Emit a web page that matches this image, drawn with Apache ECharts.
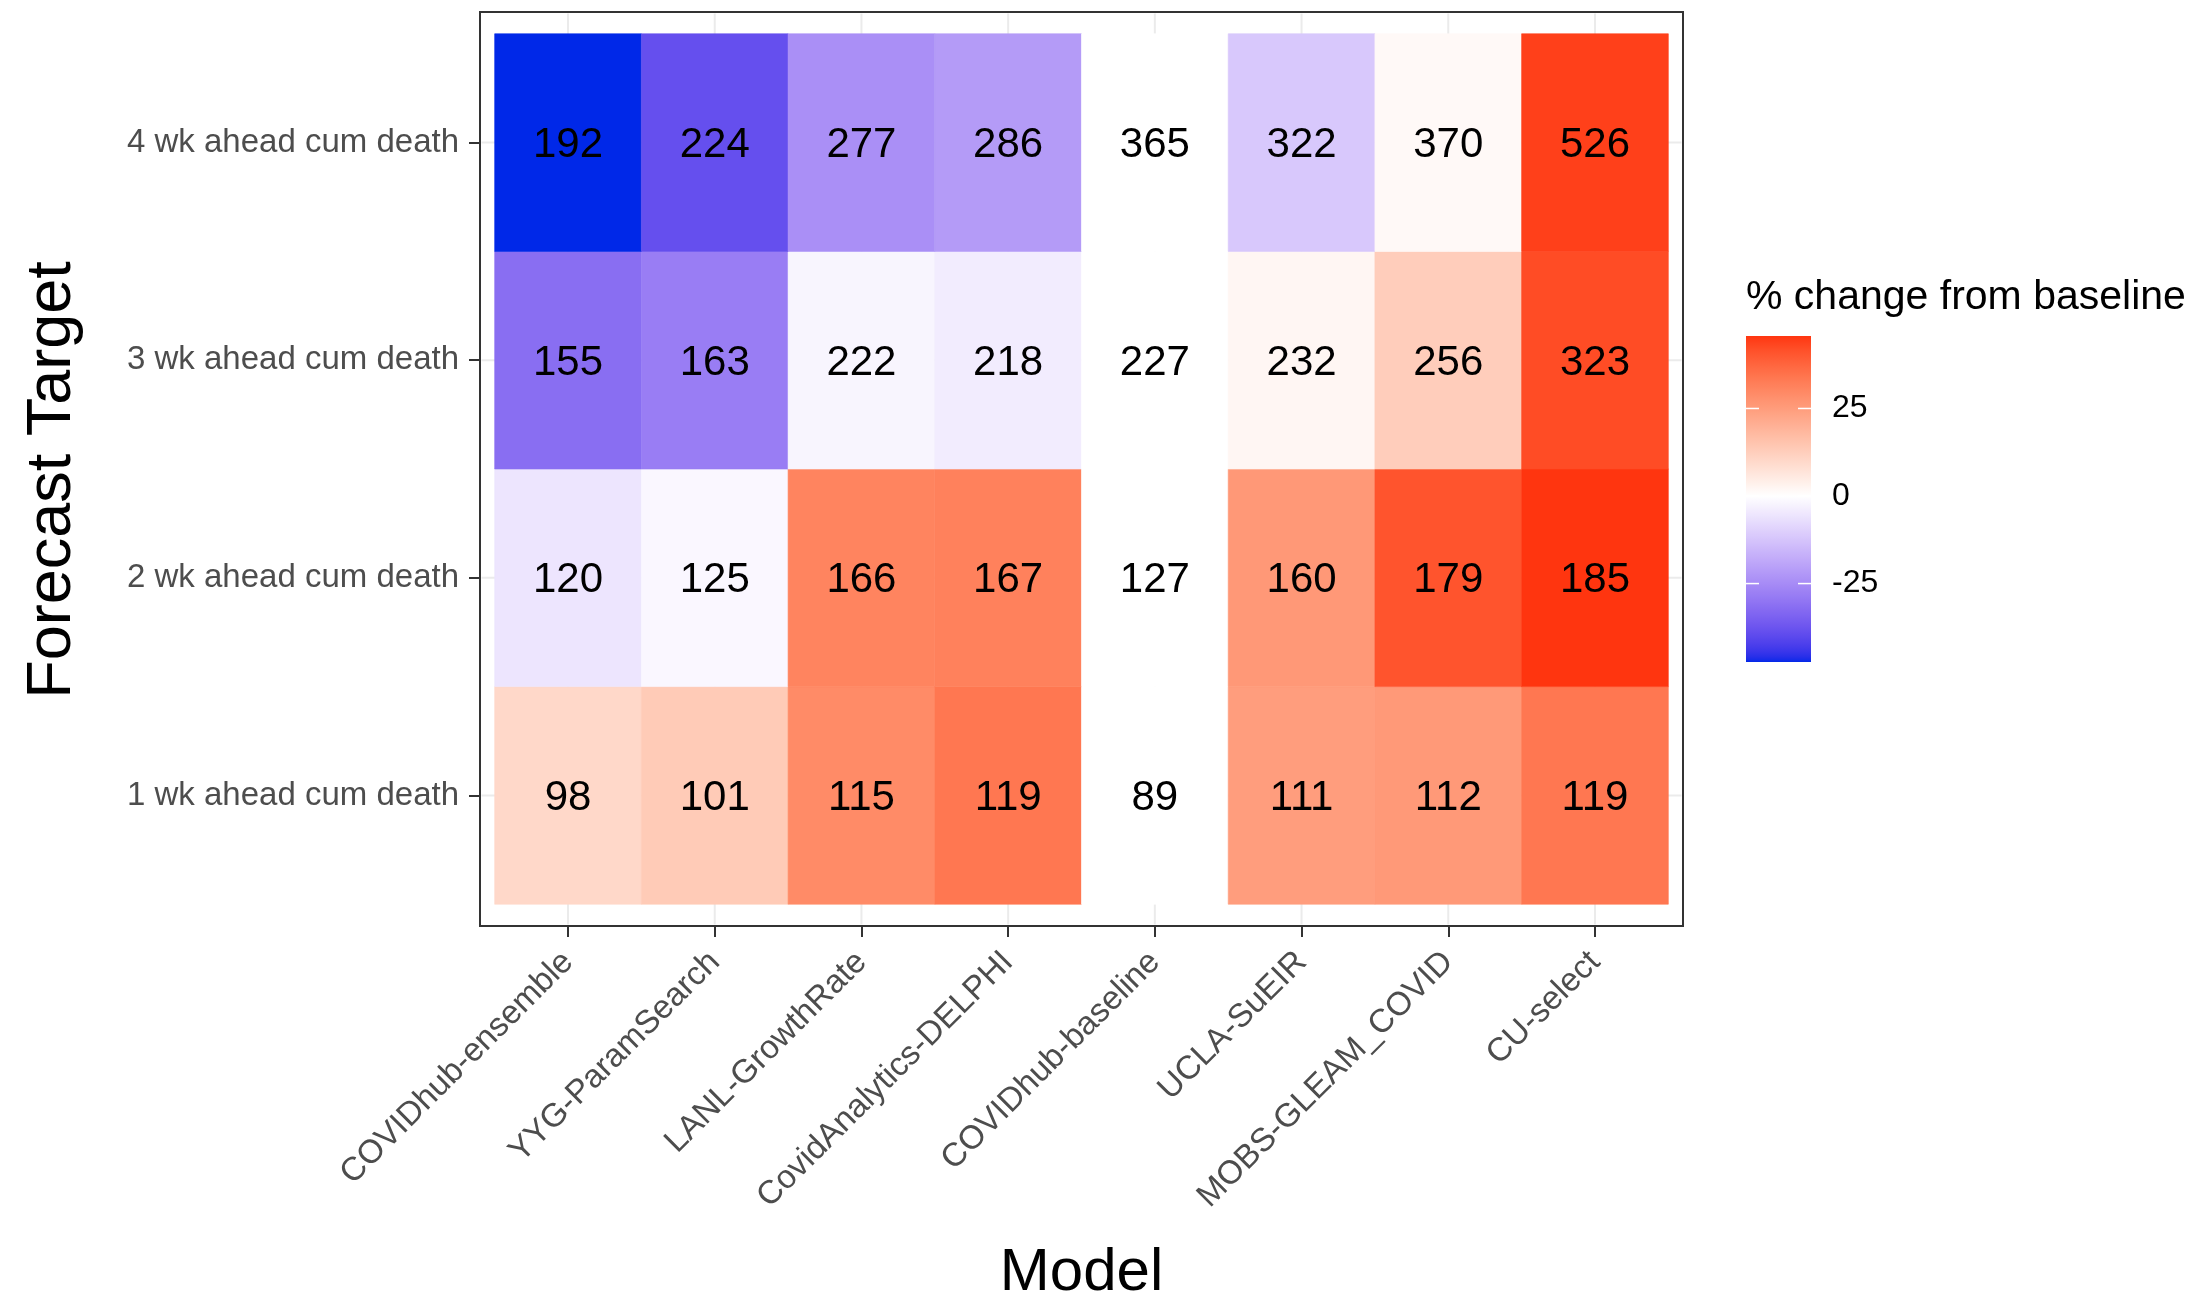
<!DOCTYPE html>
<html><head><meta charset="utf-8">
<script src="https://cdn.jsdelivr.net/npm/echarts@6/dist/echarts.min.js"></script>
<style>html,body{margin:0;padding:0;background:#fff}#c{width:2210px;height:1295px}</style>
</head><body><div id="c"></div>
<script>
// ---------- data ----------
const models = ['COVIDhub-ensemble','YYG-ParamSearch','LANL-GrowthRate','CovidAnalytics-DELPHI','COVIDhub-baseline','UCLA-SuEIR','MOBS-GLEAM_COVID','CU-select'];
const targets = ['1 wk ahead cum death','2 wk ahead cum death','3 wk ahead cum death','4 wk ahead cum death'];
// numbers printed in the tiles
const score1wk = [98, 101, 115, 119, 89, 111, 112, 119];
const score2wk = [120, 125, 166, 167, 127, 160, 179, 185];
const score3wk = [155, 163, 222, 218, 227, 232, 256, 323];
const score4wk = [192, 224, 277, 286, 365, 322, 370, 526];
// fill: % change from baseline
const pct1wk = [10.1, 13.5, 29.2, 33.7, 0, 24.7, 25.8, 33.7];
const pct2wk = [-5.5, -1.6, 30.7, 31.5, 0, 26.0, 40.9, 45.7];
const pct3wk = [-31.7, -28.2, -2.2, -4.0, 0, 2.2, 12.8, 42.3];
const pct4wk = [-47.4, -38.6, -24.1, -21.6, 0, -11.8, 1.4, 44.1];
const legendTicks = [-25, 0, 25];

// ---------- build ----------
const scores = [score1wk, score2wk, score3wk, score4wk];
const pcts = [pct1wk, pct2wk, pct3wk, pct4wk];
const cells = [];
for (let r = 0; r < targets.length; r++) {
  for (let c = 0; c < models.length; c++) {
    cells.push([c + 1, r + 1, pcts[r][c], scores[r][c]]);
  }
}
const allPct = pcts.flat();
const pmin = Math.min(...allPct), pmax = Math.max(...allPct);
const absMax = Math.max(Math.abs(pmin), Math.abs(pmax));

// Lab interpolation (like scale_fill_gradient2)
function hexToRgb(h){h=h.replace('#','');return [parseInt(h.slice(0,2),16),parseInt(h.slice(2,4),16),parseInt(h.slice(4,6),16)];}
function lin(c){c/=255;return c<=0.04045?c/12.92:Math.pow((c+0.055)/1.055,2.4);}
function gam(c){c=c<=0.0031308?12.92*c:1.055*Math.pow(c,1/2.4)-0.055;return Math.max(0,Math.min(255,Math.round(c*255)));}
const Xn=0.95047,Yn=1,Zn=1.08883;
function f(t){return t>0.008856?Math.cbrt(t):7.787*t+16/116;}
function finv(t){const t3=t*t*t;return t3>0.008856?t3:(t-16/116)/7.787;}
function rgbToLab(rgb){const R=lin(rgb[0]),G=lin(rgb[1]),B=lin(rgb[2]);
  const X=0.4124564*R+0.3575761*G+0.1804375*B,Y=0.2126729*R+0.7151522*G+0.0721750*B,Z=0.0193339*R+0.1191920*G+0.9503041*B;
  const fx=f(X/Xn),fy=f(Y/Yn),fz=f(Z/Zn);return [116*fy-16,500*(fx-fy),200*(fy-fz)];}
function labToHex(lab){const fy=(lab[0]+16)/116,fx=fy+lab[1]/500,fz=fy-lab[2]/200;
  const X=Xn*finv(fx),Y=Yn*finv(fy),Z=Zn*finv(fz);
  const R=3.2404542*X-1.5371385*Y-0.4985314*Z,G=-0.9692660*X+1.8760108*Y+0.0415560*Z,B=0.0556434*X-0.2040259*Y+1.0572252*Z;
  return '#'+[gam(R),gam(G),gam(B)].map(v=>v.toString(16).padStart(2,'0')).join('');}
const labLow=rgbToLab(hexToRgb('#0028E8')), labMid=rgbToLab(hexToRgb('#FFFFFF')), labHigh=rgbToLab(hexToRgb('#FF2600'));
function lerp(a,b,t){return [a[0]+(b[0]-a[0])*t,a[1]+(b[1]-a[1])*t,a[2]+(b[2]-a[2])*t];}
function pal(t){return t<=0.5?labToHex(lerp(labLow,labMid,t/0.5)):labToHex(lerp(labMid,labHigh,(t-0.5)/0.5));}
const NSTOP = 121;
const stopColors = [];
for (let i = 0; i < NSTOP; i++) {
  const v = pmin + (pmax - pmin) * i / (NSTOP - 1);
  stopColors.push(pal(v / absMax / 2 + 0.5));
}
const gradStops = stopColors.map((c, i) => ({offset: i / (NSTOP - 1), color: c}));

const FONT = '"Liberation Sans", Arial, Helvetica, sans-serif';
const xTicks = models.map((m, i) => i + 1);
const yTicks = targets.map((t, i) => i + 1);
const XMIN = 0.4, XMAX = models.length + 0.6, YMIN = 0.4, YMAX = targets.length + 0.6;

const chart = echarts.init(document.getElementById('c'), null, {renderer: 'canvas'});
chart.setOption({
  animation: false,
  backgroundColor: '#fff',
  textStyle: {fontFamily: FONT},
  title: {text: '% change from baseline', left: 1746, top: 277, padding: 0,
    textStyle: {fontSize: 41, fontWeight: 'normal', color: '#000', fontFamily: FONT}},
  grid: [
    {left: 480, top: 12, width: 1203, height: 914, show: true, borderColor: '#333333', borderWidth: 2,
      backgroundColor: '#fff', containLabel: false, outerBoundsMode: 'none'},
    {left: 1746, top: 336, width: 65, height: 326, containLabel: false, outerBoundsMode: 'none'}
  ],
  visualMap: {type: 'continuous', show: false, seriesIndex: 0, dimension: 2, min: pmin, max: pmax, inRange: {color: stopColors}},
  xAxis: [
    {type: 'value', gridIndex: 0, min: XMIN, max: XMAX,
      axisLine: {show: false}, splitLine: {show: false},
      axisTick: {show: true, length: 11, customValues: xTicks, lineStyle: {color: '#333333', width: 2}},
      axisLabel: {customValues: xTicks, formatter: v => models[Math.round(v) - 1] || '', rotate: 45,
        fontSize: 33, color: '#4D4D4D', margin: 31, fontFamily: FONT},
      name: 'Model', nameLocation: 'middle', nameGap: 317,
      nameTextStyle: {fontSize: 60, color: '#000', fontFamily: FONT}},
    {type: 'value', gridIndex: 1, min: 0, max: 1, show: false}
  ],
  yAxis: [
    {type: 'value', gridIndex: 0, min: YMIN, max: YMAX,
      axisLine: {show: false}, splitLine: {show: false},
      axisTick: {show: true, length: 11, customValues: yTicks, lineStyle: {color: '#333333', width: 2}},
      axisLabel: {customValues: yTicks, formatter: v => targets[Math.round(v) - 1] || '',
        fontSize: 33, color: '#4D4D4D', margin: 21, padding: [6, 0, 0, 0], fontFamily: FONT},
      name: 'Forecast Target', nameLocation: 'middle', nameGap: 396,
      nameTextStyle: {fontSize: 63, color: '#000', fontFamily: FONT, padding: [0, 22, 0, 0]}},
    {type: 'value', gridIndex: 1, min: pmin, max: pmax, position: 'right',
      axisLine: {show: false}, splitLine: {show: false}, axisTick: {show: false},
      axisLabel: {customValues: legendTicks, margin: 21, fontSize: 32, color: '#000', fontFamily: FONT}}
  ],
  series: [
    {type: 'custom', name: 'tiles', xAxisIndex: 0, yAxisIndex: 0, z: 3,
      data: cells, encode: {x: 0, y: 1},
      renderItem: function (params, api) {
        const x = api.value(0), y = api.value(1);
        const p0 = api.coord([x - 0.5, y + 0.5]);
        const p1 = api.coord([x + 0.5, y - 0.5]);
        const col = api.visual('color');
        return {type: 'rect',
          shape: {x: p0[0], y: p0[1], width: p1[0] - p0[0], height: p1[1] - p0[1]},
          style: {fill: col, stroke: col, lineWidth: 0.6},
          textContent: {style: {text: String(api.value(3)), fontSize: 42, fill: '#000', fontFamily: FONT}},
          textConfig: {position: 'inside', offset: [0, 3]}};
      }},
    {type: 'custom', name: 'gridV', xAxisIndex: 0, yAxisIndex: 0, z: 1, silent: true,
      data: xTicks.map(v => [v]), encode: {x: 0},
      renderItem: function (params, api) {
        const x = api.value(0);
        const a = api.coord([x, YMIN]), b = api.coord([x, YMAX]);
        return {type: 'line', shape: {x1: a[0], y1: a[1] - 1.5, x2: b[0], y2: b[1] + 1.5},
          style: {stroke: '#EBEBEB', lineWidth: 2}};
      }},
    {type: 'custom', name: 'gridH', xAxisIndex: 0, yAxisIndex: 0, z: 1, silent: true,
      data: yTicks.map(v => [XMIN, v]), encode: {x: 0, y: 1},
      renderItem: function (params, api) {
        const y = api.value(1);
        const a = api.coord([XMIN, y]), b = api.coord([XMAX, y]);
        return {type: 'line', shape: {x1: a[0] + 1.5, y1: a[1], x2: b[0] - 1.5, y2: b[1]},
          style: {stroke: '#EBEBEB', lineWidth: 2}};
      }},
    {type: 'custom', name: 'colorbar', xAxisIndex: 1, yAxisIndex: 1, z: 2, silent: true,
      data: [[0, pmin, pmax]], encode: {x: 0, y: [1, 2]},
      renderItem: function (params, api) {
        const p0 = api.coord([0, api.value(2)]);
        const p1 = api.coord([1, api.value(1)]);
        return {type: 'rect', shape: {x: p0[0], y: p0[1], width: p1[0] - p0[0], height: p1[1] - p0[1]},
          style: {fill: new echarts.graphic.LinearGradient(0, 1, 0, 0, gradStops)}};
      }},
    {type: 'custom', name: 'colorbarTicks', xAxisIndex: 1, yAxisIndex: 1, z: 4, silent: true,
      data: legendTicks.map(v => [0, v]), encode: {x: 0, y: 1},
      renderItem: function (params, api) {
        const a = api.coord([0, api.value(1)]), b = api.coord([1, api.value(1)]);
        const L = 13;
        return {type: 'group', children: [
          {type: 'line', shape: {x1: a[0], y1: a[1], x2: a[0] + L, y2: a[1]}, style: {stroke: '#fff', lineWidth: 1.5}},
          {type: 'line', shape: {x1: b[0] - L, y1: b[1], x2: b[0], y2: b[1]}, style: {stroke: '#fff', lineWidth: 1.5}}
        ]};
      }}
  ]
});
</script></body></html>
